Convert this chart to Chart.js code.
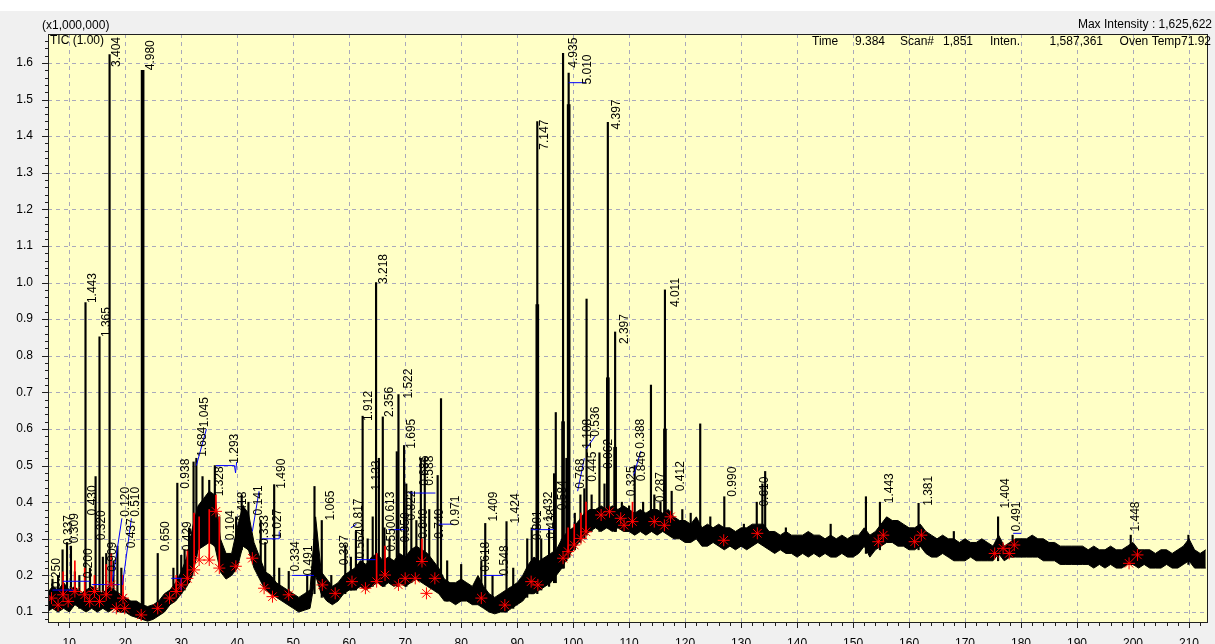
<!DOCTYPE html>
<html><head><meta charset="utf-8">
<script src="https://cdn.jsdelivr.net/npm/chart.js@4/dist/chart.umd.min.js"></script>
<style>
html,body{margin:0;padding:0;background:#f0f0f0;}
canvas{display:block;}
</style></head><body>
<canvas id="c" width="1215" height="644"></canvas>
<script>
// ---------- DATA ----------
const traceStart = 6; // minutes, one sample per minute
const bandLower = [
0.10,0.11,0.10,0.11,0.10,0.12,0.11,0.10,0.11,0.10,
0.11,0.10,0.11,0.10,0.10,0.09,0.085,0.08,0.075,0.08,
0.09,0.10,0.12,0.13,0.15,0.17,0.20,0.27,0.28,0.29,
0.28,0.21,0.19,0.20,0.22,0.28,0.27,0.22,0.19,0.16,
0.15,0.14,0.13,0.12,0.11,0.10,0.105,0.11,0.20,0.15,
0.13,0.12,0.13,0.15,0.16,0.16,0.17,0.16,0.17,0.18,
0.17,0.18,0.17,0.18,0.17,0.18,0.19,0.18,0.17,0.16,
0.15,0.13,0.13,0.12,0.13,0.13,0.12,0.12,0.11,0.10,
0.095,0.10,0.10,0.11,0.12,0.13,0.15,0.15,0.16,0.17,
0.18,0.20,0.22,0.25,0.27,0.29,0.31,0.32,0.33,0.32,
0.33,0.32,0.33,0.32,0.32,0.31,0.32,0.31,0.32,0.31,
0.32,0.31,0.30,0.30,0.29,0.29,0.30,0.28,0.28,0.29,
0.28,0.27,0.28,0.27,0.28,0.27,0.28,0.29,0.28,0.27,
0.26,0.27,0.26,0.26,0.25,0.26,0.25,0.26,0.25,0.26,
0.25,0.25,0.26,0.25,0.25,0.26,0.28,0.25,0.27,0.28,
0.29,0.29,0.28,0.28,0.27,0.27,0.28,0.26,0.25,0.25,
0.26,0.25,0.24,0.24,0.24,0.25,0.24,0.24,0.24,0.24,
0.26,0.24,0.25,0.25,0.25,0.25,0.25,0.25,0.24,0.24,
0.24,0.23,0.23,0.23,0.23,0.23,0.23,0.22,0.23,0.22,
0.23,0.22,0.22,0.23,0.23,0.22,0.23,0.22,0.22,0.22,
0.23,0.22,0.22,0.23,0.24,0.22,0.22,0.22];
const bandUpper = [
0.15,0.17,0.16,0.18,0.16,0.17,0.15,0.16,0.17,0.16,
0.15,0.17,0.16,0.15,0.14,0.13,0.13,0.12,0.115,0.12,
0.13,0.15,0.16,0.18,0.21,0.25,0.33,0.39,0.41,0.43,
0.42,0.30,0.26,0.26,0.33,0.39,0.37,0.29,0.25,0.21,
0.20,0.18,0.17,0.16,0.15,0.14,0.15,0.16,0.36,0.21,
0.19,0.17,0.18,0.20,0.21,0.22,0.24,0.23,0.25,0.26,
0.24,0.25,0.24,0.26,0.25,0.27,0.28,0.27,0.26,0.24,
0.22,0.19,0.18,0.18,0.19,0.18,0.17,0.20,0.17,0.15,
0.14,0.15,0.16,0.17,0.18,0.20,0.23,0.25,0.24,0.25,
0.26,0.27,0.30,0.32,0.33,0.35,0.37,0.38,0.38,0.39,
0.38,0.39,0.38,0.39,0.38,0.37,0.38,0.37,0.38,0.38,
0.37,0.38,0.36,0.35,0.35,0.34,0.36,0.33,0.34,0.33,
0.34,0.33,0.33,0.32,0.33,0.33,0.34,0.34,0.34,0.32,
0.32,0.31,0.32,0.31,0.31,0.31,0.32,0.31,0.31,0.30,
0.31,0.30,0.31,0.30,0.31,0.31,0.33,0.31,0.32,0.34,
0.36,0.35,0.35,0.34,0.33,0.33,0.34,0.32,0.31,0.30,
0.31,0.30,0.30,0.29,0.30,0.29,0.29,0.30,0.29,0.28,
0.31,0.28,0.29,0.30,0.30,0.30,0.31,0.30,0.30,0.29,
0.29,0.28,0.28,0.28,0.28,0.28,0.27,0.28,0.27,0.27,
0.28,0.27,0.27,0.28,0.29,0.27,0.27,0.27,0.26,0.27,
0.27,0.26,0.27,0.28,0.30,0.27,0.26,0.27];

// individual peaks: retention time, start level, apex (x1,000,000)
const peakX = [7.0,8.0,8.8,9.6,10.3,11.0,11.8,12.9,13.7,14.7,15.4,16.0,16.6,17.2,17.9,18.6,19.3,23.1,25.8,28.6,
  29.3,30.0,30.6,31.4,32.2,32.7,33.8,35.0,36.0,36.8,39.8,40.8,42.0,44.2,45.0,46.6,47.5,49.2,52.5,53.8,
  55.1,56.8,59.3,60.3,61.2,62.4,63.3,64.2,64.8,65.3,66.0,66.3,67.2,68.5,68.8,69.8,70.2,71.1,72.0,72.8,
  73.5,74.3,75.8,76.4,77.5,80.0,83.6,84.3,85.6,88.1,89.3,91.8,92.6,93.6,94.3,95.7,96.6,96.9,98.2,98.8,
  99.2,100.3,101.3,102.0,102.4,103.3,104.7,105.6,106.2,107.5,108.7,110.0,111.0,112.5,113.9,114.5,115.6,116.4,117.6,119.5,
  121.0,122.7,124.5,127.0,130.5,132.8,133.8,134.3,138.0,146.0,152.3,154.8,161.7,168.0,175.9,178.5,199.6,209.9];
const peakBase = [0.11,0.11,0.12,0.12,0.12,0.12,0.11,0.11,0.11,0.11,0.11,0.11,0.11,0.11,0.11,0.10,0.10,0.08,0.09,0.13,
  0.14,0.15,0.16,0.18,0.22,0.25,0.28,0.30,0.28,0.22,0.22,0.27,0.27,0.20,0.17,0.15,0.14,0.12,0.11,0.15,
  0.14,0.13,0.15,0.16,0.16,0.17,0.17,0.17,0.18,0.18,0.17,0.17,0.18,0.17,0.17,0.18,0.17,0.18,0.19,0.19,
  0.18,0.17,0.16,0.15,0.13,0.13,0.12,0.11,0.10,0.10,0.11,0.14,0.15,0.15,0.16,0.17,0.18,0.18,0.22,0.24,
  0.25,0.27,0.29,0.30,0.31,0.32,0.32,0.33,0.33,0.32,0.33,0.33,0.32,0.32,0.32,0.32,0.32,0.32,0.32,0.31,
  0.30,0.30,0.29,0.28,0.28,0.29,0.29,0.29,0.27,0.26,0.26,0.27,0.27,0.25,0.24,0.25,0.23,0.23];
const peakTop = [0.19,0.20,0.27,0.29,0.28,0.21,0.20,0.945,0.22,0.47,0.852,0.25,0.26,1.623,0.24,0.28,0.22,1.58,0.26,0.22,
  0.452,0.255,0.27,0.33,0.51,0.52,0.47,0.46,0.50,0.36,0.36,0.42,0.40,0.35,0.29,0.448,0.22,0.211,0.20,0.443,
  0.35,0.20,0.283,0.25,0.32,0.635,0.30,0.36,1.0,0.52,0.633,0.33,0.30,0.538,0.694,0.555,0.45,0.43,0.35,0.52,
  0.52,0.38,0.473,0.683,0.24,0.23,0.24,0.342,0.20,0.347,0.22,0.30,0.33,1.44,0.30,0.33,0.478,0.645,1.626,0.52,
  1.572,0.37,0.42,0.437,0.955,0.42,0.535,0.45,1.438,0.865,0.40,0.39,0.50,0.40,0.72,0.42,0.40,0.98,0.43,0.38,
  0.37,0.614,0.36,0.415,0.34,0.40,0.45,0.484,0.33,0.34,0.415,0.40,0.397,0.32,0.36,0.31,0.31,0.31];

// broad (overloaded) parts of the largest peaks
const heavyX    = [23.1,93.6,98.2,99.2,106.2,107.5,116.4];
const heavyBase = [0.08,0.16,0.22,0.25,0.33,0.32,0.32];
const heavyTop  = [1.58,0.94,0.62,1.486,0.74,0.55,0.60];

// peak area labels (apex position of the label, text)
const labelX = [6.53,8.57,9.73,12.3,12.95,12.94,14.5,15.5,17.3,16.5,18.9,20.7,19.9,23.3,26.0,29.5,29.9,32.5,33.0,35.6,
  38.3,37.6,39.8,42.65,43.7,46.0,46.7,49.2,51.6,55.5,57.9,60.4,60.8,62.3,64.9,63.6,66.0,66.1,66.4,69.3,
  69.9,68.8,70.0,72.2,73.1,72.0,74.9,77.7,83.2,84.5,86.6,88.4,92.5,93.7,94.4,95.0,96.9,98.9,101.4,100.1,
  101.4,102.3,102.8,105.1,106.5,108.0,109.2,110.8,111.0,114.3,117.0,117.9,127.3,133.0,155.3,162.2,176.1,178.0,199.2];
const labelY = [0.165,0.283,0.288,0.192,0.944,0.364,0.296,0.851,1.623,0.21,0.36,0.36,0.274,1.58,0.266,0.437,0.266,0.524,0.605,0.416,
  0.505,0.296,0.347,0.364,0.283,0.30,0.437,0.211,0.20,0.35,0.228,0.328,0.246,0.622,0.996,0.432,0.633,0.347,0.265,0.683,
  0.546,0.29,0.35,0.445,0.445,0.30,0.30,0.336,0.21,0.347,0.20,0.342,0.296,1.363,0.347,0.30,0.378,1.587,1.541,0.437,
  0.546,0.456,0.579,0.491,1.418,0.832,0.416,0.546,0.457,0.40,0.933,0.43,0.415,0.388,0.397,0.39,0.383,0.32,0.32];
const labelText = ["0.250","0.337","0.309","0.200","1.443","0.430","0.320","1.365","3.404","0.909","0.120","0.510","0.437","4.980","0.650","0.938","0.429","1.684","1.045","1.328",
  "1.293","0.104","0.418","0.141","0.333","1.027","1.490","0.334","0.491","1.065","0.387","0.817","0.564","1.912","3.218","1.133","2.356","0.613","0.550","1.522",
  "1.695","0.350","0.822","0.686","0.588","0.640","0.740","0.971","0.618","1.409","0.548","1.424","0.891","7.147","1.432","0.438","0.584","4.935","5.010","0.768",
  "1.108","0.445","0.536","0.062","4.397","2.397","0.325","0.388","0.846","0.287","4.011","0.412","0.990","0.610","1.443","1.381","1.404","0.491","1.448"];

// integration start/end marks
const markX = [6.83,8.0,8.9,9.8,11.0,12.75,13.65,14.5,15.4,16.6,17.5,18.4,19.6,19.9,22.85,25.8,27.9,29.1,30.0,31.1,
  32.3,33.2,35.0,36.2,36.8,39.75,42.7,44.8,46.3,49.2,55.2,57.5,60.5,62.9,64.9,66.4,68.8,70.0,71.8,73.0,
  73.8,75.3,83.6,87.8,92.5,93.7,98.2,99.1,100.2,101.4,102.3,105.0,106.5,108.5,109.1,110.6,114.5,116.3,117.4,126.9,
  132.9,154.5,155.4,161.0,162.2,175.3,176.8,177.9,178.8,199.3,200.8];
const markY = [0.138,0.119,0.147,0.129,0.156,0.147,0.129,0.156,0.129,0.147,0.174,0.110,0.138,0.110,0.092,0.110,0.138,0.156,0.174,0.192,
  0.215,0.242,0.242,0.375,0.22,0.225,0.247,0.165,0.142,0.147,0.174,0.151,0.183,0.165,0.183,0.201,0.174,0.192,0.192,0.238,
  0.151,0.192,0.138,0.119,0.183,0.174,0.247,0.265,0.283,0.301,0.319,0.365,0.374,0.356,0.337,0.347,0.347,0.337,0.36,0.296,
  0.315,0.292,0.31,0.292,0.31,0.26,0.274,0.26,0.283,0.233,0.256];

// red peak-boundary drop lines
const dropX  = [8.9,11.0,12.75,14.5,16.6,17.5,19.6,29.1,31.1,32.3,33.2,35.0,36.2,36.8,64.9,66.4,73.0,99.1,100.2,101.4,102.3,110.6];
const dropLo = [0.147,0.156,0.147,0.156,0.147,0.174,0.138,0.156,0.192,0.215,0.242,0.242,0.375,0.22,0.183,0.201,0.238,0.265,0.283,0.301,0.319,0.347];
const dropHi = [0.21,0.24,0.22,0.20,0.23,0.26,0.20,0.20,0.27,0.37,0.36,0.38,0.42,0.36,0.26,0.28,0.30,0.33,0.34,0.37,0.40,0.40];

// drawn baselines (polylines of [time, level])
const baselineSegs = [
  [[7.0,0.16],[11.0,0.16]], [[8.85,0.184],[13.65,0.184]], [[14.0,0.175],[19.0,0.175]],
  [[17.7,0.184],[19.4,0.356]], [[19.5,0.174],[21.1,0.356]], [[28.2,0.192],[30.0,0.192],[30.0,0.16]],
  [[32.7,0.50],[34.5,0.60]], [[36.2,0.50],[39.5,0.50],[39.7,0.48],[39.9,0.51]],
  [[42.7,0.32],[43.9,0.43]], [[44.4,0.30],[47.5,0.30],[47.5,0.32]], [[49.8,0.20],[53.7,0.20]],
  [[60.3,0.33],[61.3,0.34]], [[61.3,0.243],[64.7,0.243]], [[67.0,0.325],[70.0,0.325]],
  [[70.6,0.425],[75.4,0.425]], [[76.0,0.34],[78.6,0.34]], [[84.0,0.20],[87.5,0.20]],
  [[92.5,0.325],[96.6,0.325]], [[99.2,1.546],[102.3,1.546]], [[100.8,0.43],[102.0,0.52]],
  [[102.3,0.545],[103.9,0.58]], [[110.8,0.473],[112.1,0.54]], [[178.6,0.315],[180.0,0.315]]
];

const xTicks = [10,20,30,40,50,60,70,80,90,100,110,120,130,140,150,160,170,180,190,200,210];
const yTicks = [0.1,0.2,0.3,0.4,0.5,0.6,0.7,0.8,0.9,1.0,1.1,1.2,1.3,1.4,1.5,1.6];
const xRange = [6.2, 213.4];
const yRange = [0.07, 1.679];

// ---------- BUILD ----------
const FONT = "'Liberation Sans', Arial, sans-serif";
const lowerPts = bandLower.map((v,i)=>({x: traceStart+i, y: v}));
const upperPts = bandUpper.map((v,i)=>({x: traceStart+i, y: v}));
const peakPts = peakX.map((x,i)=>({x: x, y: [peakBase[i], peakTop[i]]}));
const heavyPts = heavyX.map((x,i)=>({x: x, y: [heavyBase[i], heavyTop[i]]}));
const dropPts = dropX.map((x,i)=>({x: x, y: [dropLo[i], dropHi[i]]}));
const markPts = markX.map((x,i)=>({x: x, y: markY[i]}));
const basePts = [];
baselineSegs.forEach(seg=>{ seg.forEach(p=>basePts.push({x:p[0], y:p[1]})); basePts.push({x: seg[seg.length-1][0], y: null}); });

const deco = {
  id: 'deco',
  beforeDraw(chart){
    const {ctx, chartArea: a} = chart;
    ctx.save();
    ctx.fillStyle = '#f0f0f0'; ctx.fillRect(0,0,chart.width,chart.height);
    ctx.fillStyle = '#ffffff'; ctx.fillRect(0,0,chart.width,11);
    ctx.fillStyle = '#ffffc6'; ctx.fillRect(a.left,a.top,a.right-a.left,a.bottom-a.top);
    ctx.restore();
  },
  beforeDatasetsDraw(chart){
    const {ctx, chartArea: a, scales:{x, y}} = chart;
    ctx.save();
    ctx.strokeStyle = '#a9a9bb'; ctx.lineWidth = 1; ctx.setLineDash([4,4]);
    xTicks.forEach(v=>{ const px = Math.round(x.getPixelForValue(v))+0.5; ctx.beginPath(); ctx.moveTo(px,a.top); ctx.lineTo(px,a.bottom); ctx.stroke(); });
    yTicks.forEach(v=>{ const py = Math.round(y.getPixelForValue(v))+0.5; ctx.beginPath(); ctx.moveTo(a.left,py); ctx.lineTo(a.right,py); ctx.stroke(); });
    ctx.restore();
  },
  afterDatasetsDraw(chart){
    const {ctx, chartArea: a, scales:{x, y}} = chart;
    ctx.save();
    ctx.beginPath(); ctx.rect(a.left,a.top,a.right-a.left,a.bottom-a.top); ctx.clip();
    ctx.font = '12px ' + FONT; ctx.fillStyle = '#000';
    ctx.textAlign = 'left'; ctx.textBaseline = 'top';
    labelText.forEach((t,i)=>{
      const w = ctx.measureText(t).width;
      const px = x.getPixelForValue(labelX[i]);
      let py = y.getPixelForValue(labelY[i]);
      if (py - w < a.top + 3) py = a.top + 3 + w;
      ctx.save(); ctx.translate(px+1, py); ctx.rotate(-Math.PI/2); ctx.fillText(t, 0, 0); ctx.restore();
    });
    ctx.restore();
  },
  afterDraw(chart){
    const {ctx, chartArea: a, scales:{x, y}} = chart;
    ctx.save();
    ctx.strokeStyle = '#202020'; ctx.lineWidth = 1; ctx.setLineDash([]);
    ctx.strokeRect(a.left+0.5, a.top+0.5, a.right-a.left-1, a.bottom-a.top-1);
    ctx.beginPath();
    for (let v = 6; v <= 213; v += 2) {
      const px = Math.round(x.getPixelForValue(v))+0.5;
      if (px < a.left || px > a.right) continue;
      const major = v % 10 === 0;
      ctx.moveTo(px, a.bottom); ctx.lineTo(px, a.bottom + (major ? 5 : 3));
    }
    for (let k = 4; k <= 83; k++) {
      const v = k/50;
      const py = Math.round(y.getPixelForValue(v))+0.5;
      if (py < a.top || py > a.bottom) continue;
      const major = k % 5 === 0;
      ctx.moveTo(a.left, py); ctx.lineTo(a.left - (major ? 6 : 3), py);
    }
    ctx.stroke();
    ctx.fillStyle = '#000'; ctx.font = '12px ' + FONT; ctx.textBaseline = 'middle';
    ctx.textAlign = 'left';
    ctx.fillText('(x1,000,000)', 42, 26);
    ctx.fillText('TIC (1.00)', 50, 41);
    ctx.fillText('Time', 812, 42); ctx.fillText('9.384', 855, 42);
    ctx.fillText('Scan#', 900, 42); ctx.fillText('1,851', 943, 42);
    ctx.fillText('Inten.', 990, 42);
    ctx.textAlign = 'right';
    ctx.fillText('1,587,361', 1103, 42);
    ctx.fillText('Oven Temp71.92', 1211, 42);
    ctx.fillText('Max Intensity : 1,625,622', 1212, 25);
    ctx.restore();
  }
};

new Chart(document.getElementById('c'), {
  type: 'line',
  data: { datasets: [
    { data: lowerPts, borderColor: '#000', borderWidth: 1, pointRadius: 0, fill: false, tension: 0, order: 7 },
    { data: upperPts, borderColor: '#000', borderWidth: 1, pointRadius: 0, fill: '-1', backgroundColor: '#000', tension: 0, order: 6 },
    { type: 'bar', data: peakPts, backgroundColor: '#000', borderWidth: 0, barThickness: 1.5, grouped: false, order: 5 },
    { type: 'bar', data: heavyPts, backgroundColor: '#000', borderWidth: 0, barThickness: 3, grouped: false, order: 4 },
    { type: 'bar', data: dropPts, backgroundColor: '#ff0000', borderWidth: 0, barThickness: 1, grouped: false, order: 3 },
    { data: basePts, borderColor: '#0000ff', borderWidth: 1, pointRadius: 0, fill: false, spanGaps: false, tension: 0, order: 2 },
    { type: 'scatter', data: markPts, pointStyle: 'star', pointRadius: 6, borderColor: '#ff0000', backgroundColor: '#ff0000', borderWidth: 1, showLine: false, order: 1 }
  ]},
  options: {
    responsive: false, animation: false, devicePixelRatio: 1,
    layout: { padding: { top: 34, right: 3, left: 0, bottom: 0 } },
    plugins: { legend: { display: false }, tooltip: { enabled: false }, title: { display: false } },
    scales: {
      x: { type: 'linear', min: xRange[0], max: xRange[1], offset: false,
           grid: { display: false }, border: { display: false },
           afterBuildTicks: s => { s.ticks = xTicks.map(v=>({value:v})); },
           afterFit: s => { s.height = 21; },
           ticks: { padding: 5, color: '#000', font: { family: FONT, size: 12 }, maxRotation: 0, autoSkip: false, callback: v => String(v) } },
      y: { type: 'linear', min: yRange[0], max: yRange[1],
           grid: { display: false }, border: { display: false },
           afterBuildTicks: s => { s.ticks = yTicks.map(v=>({value:v})); },
           afterFit: s => { s.width = 48; },
           ticks: { padding: 7, color: '#000', font: { family: FONT, size: 12 }, autoSkip: false, callback: v => v.toFixed(1) } }
    }
  },
  plugins: [deco]
});
</script>
</body></html>
